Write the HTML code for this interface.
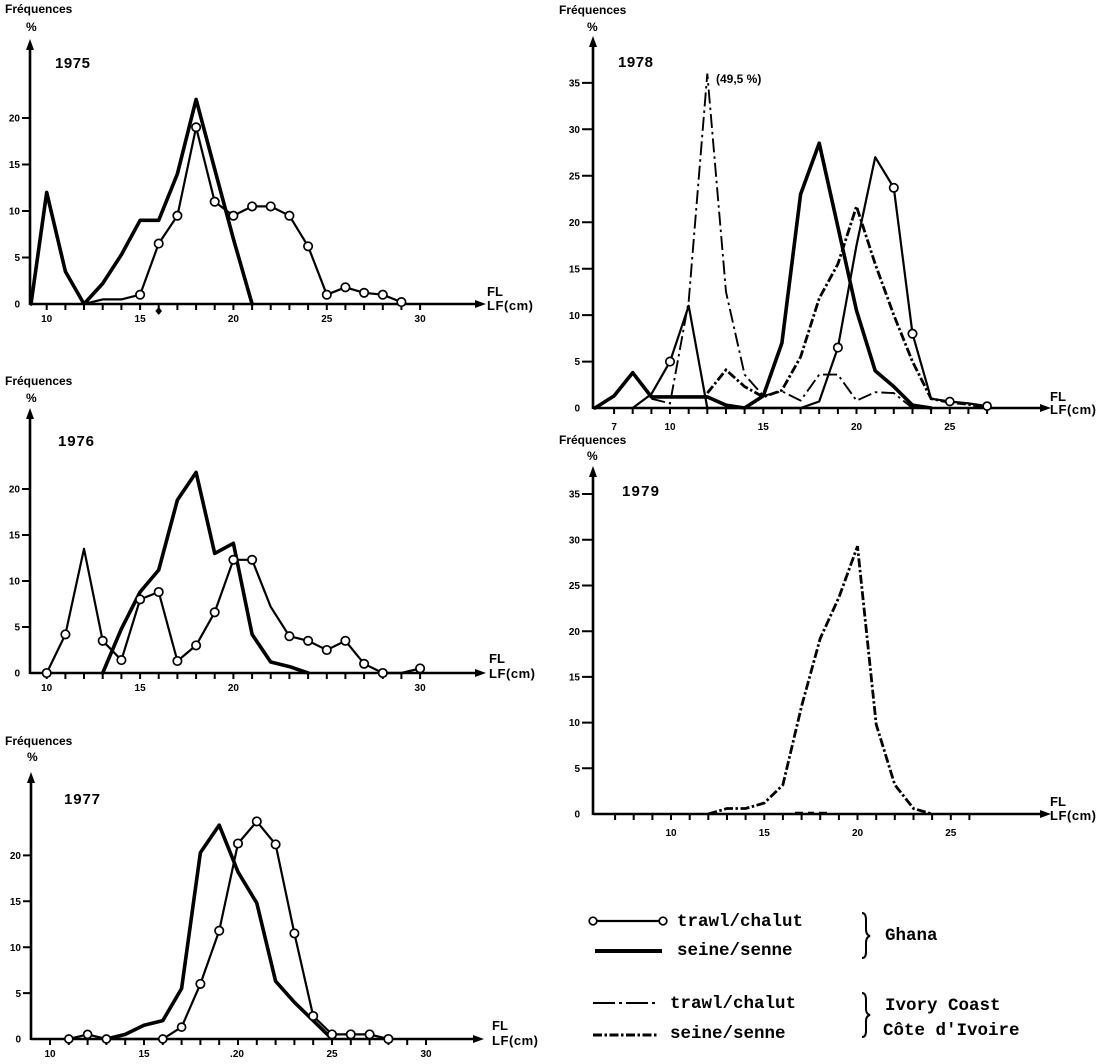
<!DOCTYPE html>
<html>
<head>
<meta charset="utf-8">
<style>
  html, body { margin:0; padding:0; background:#fff; }
  svg { display:block; }
  .ax { stroke:#000; stroke-width:2.6; fill:none; }
  .tk { stroke:#000; stroke-width:2; fill:none; }
  .gs { stroke:#000; stroke-width:3.6; fill:none; stroke-linejoin:round; stroke-linecap:round; }
  .gt { stroke:#000; stroke-width:2.2; fill:none; stroke-linejoin:round; }
  .it { stroke:#000; stroke-width:1.9; fill:none; stroke-dasharray:14 4 2.5 4; }
  .is { stroke:#000; stroke-width:2.8; fill:none; stroke-dasharray:9 2.5 2.5 2.5; }
  .m circle { fill:#fff; stroke:#000; stroke-width:1.7; }
  text { font-family:"Liberation Sans", sans-serif; font-weight:bold; fill:#000; }
  .fr { font-size:12px; }
  .yr { font-size:15px; }
  .tl { font-size:10px; }
  .fl { font-size:13px; }
  .lg { font-family:"Liberation Mono", monospace; font-size:17.5px; font-weight:bold; }
</style>
</head>
<body>
<svg width="1100" height="1064" viewBox="0 0 1100 1064" xmlns="http://www.w3.org/2000/svg">

<!-- ================= 1975 ================= -->
<text class="fr" x="5" y="13">Fréquences</text>
<text class="fr" x="26" y="31">%</text>
<text class="yr" x="55" y="68" textLength="35">1975</text>
<line class="ax" x1="30" y1="305" x2="30" y2="48"/>
<polygon points="26,50 30,39 34,50" fill="#000"/>
<line class="ax" x1="30" y1="304" x2="476" y2="304"/>
<polygon points="475,300 486,304 475,308" fill="#000"/>
<path class="tk" d="M22 118H30M22 164.5H30M22 211H30M22 257.5H30"/>
<g class="tl" text-anchor="end">
  <text x="20" y="121.5">20</text><text x="20" y="168">15</text><text x="20" y="214.5">10</text>
  <text x="20" y="261">5</text><text x="20" y="307.5">0</text>
</g>
<path class="tk" d="M46.7 304v6M65.4 304v6M84 304v6M102.7 304v6M121.4 304v6M140.1 304v6M158.7 304v6M177.4 304v6M196.1 304v6M214.7 304v6M233.4 304v6M252.1 304v6M270.7 304v6M289.4 304v6M308.1 304v6M326.8 304v6M345.4 304v6M364.1 304v6M382.8 304v6M401.4 304v6M420.1 304v6"/>
<g class="tl" text-anchor="middle">
  <text x="46.7" y="322">10</text><text x="140.1" y="322">15</text><text x="233.4" y="322">20</text>
  <text x="326.8" y="322">25</text><text x="420.1" y="322">30</text>
</g>
<polygon points="158.7,307 162,311 158.7,315 155.4,311" fill="#000"/>
<text class="fl" x="487" y="296">FL</text>
<text class="fl" x="487" y="310" textLength="46">LF(cm)</text>
<polyline class="gs" points="31,304 46.7,192.4 65.4,271.5 84,304 102.7,283.5 121.4,254.7 140.1,220.3 158.7,220.3 177.4,173.8 196.1,99.4 214.7,169.1 233.4,238.9 252.1,304"/>
<polyline class="gt" points="84,304 102.7,299.4 121.4,299.4 140.1,294.7 158.7,243.6 177.4,215.7 196.1,127.3 214.7,201.7 233.4,215.7 252.1,206.4 270.7,206.4 289.4,215.7 308.1,246.3 326.8,294.7 345.4,287.3 364.1,292.8 382.8,294.7 401.4,302.1"/>
<g class="m">
  <circle cx="140.1" cy="294.7" r="4.2"/><circle cx="158.7" cy="243.6" r="4.2"/><circle cx="177.4" cy="215.7" r="4.2"/>
  <circle cx="196.1" cy="127.3" r="4.2"/><circle cx="214.7" cy="201.7" r="4.2"/><circle cx="233.4" cy="215.7" r="4.2"/>
  <circle cx="252.1" cy="206.4" r="4.2"/><circle cx="270.7" cy="206.4" r="4.2"/><circle cx="289.4" cy="215.7" r="4.2"/>
  <circle cx="308.1" cy="246.3" r="4.2"/><circle cx="326.8" cy="294.7" r="4.2"/><circle cx="345.4" cy="287.3" r="4.2"/>
  <circle cx="364.1" cy="292.8" r="4.2"/><circle cx="382.8" cy="294.7" r="4.2"/><circle cx="401.4" cy="302.1" r="4.2"/>
</g>

<!-- ================= 1976 ================= -->
<text class="fr" x="5" y="385">Fréquences</text>
<text class="fr" x="26" y="402">%</text>
<text class="yr" x="58" y="446" textLength="36">1976</text>
<line class="ax" x1="30" y1="674" x2="30" y2="417"/>
<polygon points="26,419 30,408 34,419" fill="#000"/>
<line class="ax" x1="30" y1="673" x2="476" y2="673"/>
<polygon points="475,669 486,673 475,677" fill="#000"/>
<path class="tk" d="M22 489H30M22 535H30M22 581H30M22 627H30"/>
<g class="tl" text-anchor="end">
  <text x="20" y="492.5">20</text><text x="20" y="538.5">15</text><text x="20" y="584.5">10</text>
  <text x="20" y="630.5">5</text><text x="20" y="676.5">0</text>
</g>
<path class="tk" d="M46.7 673v6M65.4 673v6M84 673v6M102.7 673v6M121.4 673v6M140.1 673v6M158.7 673v6M177.4 673v6M196.1 673v6M214.7 673v6M233.4 673v6M252.1 673v6M270.7 673v6M289.4 673v6M308.1 673v6M326.8 673v6M345.4 673v6M364.1 673v6M382.8 673v6M401.4 673v6M420.1 673v6"/>
<g class="tl" text-anchor="middle">
  <text x="46.7" y="691">10</text><text x="140.1" y="691">15</text><text x="233.4" y="691">20</text>
  <text x="420.1" y="691">30</text>
</g>
<text class="fl" x="489" y="663">FL</text>
<text class="fl" x="489" y="678" textLength="46">LF(cm)</text>
<polyline class="gs" points="102.7,673 121.4,628.8 140.1,592 158.7,570 177.4,500 196.1,472.4 214.7,553.4 233.4,543.3 252.1,634.4 270.7,662 289.4,666.6 308.1,673"/>
<polyline class="gt" points="46.7,673 65.4,634.4 84,548.8 102.7,640.8 121.4,660.1 140.1,599.4 158.7,592 177.4,661 196.1,645.4 214.7,612.3 233.4,559.8 252.1,559.8 270.7,606.8 289.4,636.2 308.1,640.8 326.8,650 345.4,640.8 364.1,663.8 382.8,673 401.4,673 420.1,668.4"/>
<g class="m">
  <circle cx="46.7" cy="673" r="4.2"/><circle cx="65.4" cy="634.4" r="4.2"/><circle cx="102.7" cy="640.8" r="4.2"/>
  <circle cx="121.4" cy="660.1" r="4.2"/><circle cx="140.1" cy="599.4" r="4.2"/><circle cx="158.7" cy="592" r="4.2"/>
  <circle cx="177.4" cy="661" r="4.2"/><circle cx="196.1" cy="645.4" r="4.2"/><circle cx="214.7" cy="612.3" r="4.2"/>
  <circle cx="233.4" cy="559.8" r="4.2"/><circle cx="252.1" cy="559.8" r="4.2"/><circle cx="289.4" cy="636.2" r="4.2"/>
  <circle cx="308.1" cy="640.8" r="4.2"/><circle cx="326.8" cy="650" r="4.2"/><circle cx="345.4" cy="640.8" r="4.2"/>
  <circle cx="364.1" cy="663.8" r="4.2"/><circle cx="382.8" cy="673" r="4.2"/><circle cx="420.1" cy="668.4" r="4.2"/>
</g>

<!-- ================= 1977 ================= -->
<text class="fr" x="5" y="745">Fréquences</text>
<text class="fr" x="27" y="761">%</text>
<text class="yr" x="64" y="804" textLength="36">1977</text>
<line class="ax" x1="31" y1="1040" x2="31" y2="781"/>
<polygon points="27,783 31,772 35,783" fill="#000"/>
<line class="ax" x1="31" y1="1039" x2="474" y2="1039"/>
<polygon points="473,1035 484,1039 473,1043" fill="#000"/>
<path class="tk" d="M23 855.4H31M23 901.3H31M23 947.2H31M23 993.1H31"/>
<g class="tl" text-anchor="end">
  <text x="21" y="859">20</text><text x="21" y="905">15</text><text x="21" y="951">10</text>
  <text x="21" y="997">5</text><text x="21" y="1042.5">0</text>
</g>
<path class="tk" d="M50 1039v6M68.8 1039v6M87.6 1039v6M106.4 1039v6M125.2 1039v6M144 1039v6M162.8 1039v6M181.6 1039v6M200.4 1039v6M219.2 1039v6M238 1039v6M256.8 1039v6M275.6 1039v6M294.4 1039v6M313.2 1039v6M332 1039v6M350.8 1039v6M369.6 1039v6M388.4 1039v6M407.2 1039v6M426 1039v6"/>
<g class="tl" text-anchor="middle">
  <text x="50" y="1057">10</text><text x="144" y="1057">15</text><text x="237" y="1057">.20</text>
  <text x="332" y="1057">25</text><text x="426" y="1057">30</text>
</g>
<text class="fl" x="492" y="1030">FL</text>
<text class="fl" x="492" y="1045" textLength="46">LF(cm)</text>
<polyline class="gs" points="106.4,1039 125.2,1034.4 144,1025.2 162.8,1020.6 181.6,988.5 200.4,852.6 219.2,825.1 238,871.9 256.8,903.1 275.6,981.2 294.4,1002.3 313.2,1020.6 332,1039"/>
<polyline class="gt" points="68.8,1039 87.6,1034.4 106.4,1039 162.8,1039 181.6,1027.1 200.4,983.9 219.2,930.7 238,843.5 256.8,821.4 275.6,844.4 294.4,933.4 313.2,1016 332,1034.4 350.8,1034.4 369.6,1034.4 388.4,1039"/>
<g class="m">
  <circle cx="68.8" cy="1039" r="4"/><circle cx="87.6" cy="1034.4" r="4"/><circle cx="106.4" cy="1039" r="4"/>
  <circle cx="162.8" cy="1039" r="4"/><circle cx="181.6" cy="1027.1" r="4"/><circle cx="200.4" cy="983.9" r="4.2"/>
  <circle cx="219.2" cy="930.7" r="4.2"/><circle cx="238" cy="843.5" r="4.2"/><circle cx="256.8" cy="821.4" r="4.2"/>
  <circle cx="275.6" cy="844.4" r="4.2"/><circle cx="294.4" cy="933.4" r="4.2"/><circle cx="313.2" cy="1016" r="4.2"/>
  <circle cx="332" cy="1034.4" r="4.2"/><circle cx="350.8" cy="1034.4" r="4.2"/><circle cx="369.6" cy="1034.4" r="4.2"/>
  <circle cx="388.4" cy="1039" r="4.2"/>
</g>

<!-- ================= 1978 ================= -->
<text class="fr" x="559" y="14">Fréquences</text>
<text class="fr" x="587" y="31">%</text>
<text class="yr" x="618" y="67" textLength="35">1978</text>
<text x="716" y="83" style="font-size:12px">(49,5 %)</text>
<line class="ax" x1="593" y1="409" x2="593" y2="45"/>
<polygon points="589,47 593,36 597,47" fill="#000"/>
<line class="ax" x1="593" y1="408" x2="1041" y2="408"/>
<polygon points="1040,404 1051,408 1040,412" fill="#000"/>
<path class="tk" d="M582 82.9H593M582 129.3H593M582 175.8H593M582 222.2H593M582 268.7H593M582 315.1H593M582 361.6H593"/>
<g class="tl" text-anchor="end">
  <text x="580" y="86.5">35</text><text x="580" y="133">30</text><text x="580" y="179.5">25</text>
  <text x="580" y="226">20</text><text x="580" y="272.5">15</text><text x="580" y="319">10</text>
  <text x="580" y="365">5</text><text x="580" y="411.5">0</text>
</g>
<path class="tk" d="M614.1 408v6M632.7 408v6M651.4 408v6M670 408v6M688.7 408v6M707.3 408v6M726 408v6M744.6 408v6M763.3 408v6M781.9 408v6M800.6 408v6M819.2 408v6M837.9 408v6M856.5 408v6M875.2 408v6M893.8 408v6M912.5 408v6M931.1 408v6M949.8 408v6M968.4 408v6M987.1 408v6"/>
<g class="tl" text-anchor="middle">
  <text x="614.1" y="430">7</text><text x="670" y="430">10</text><text x="763.3" y="430">15</text>
  <text x="856.5" y="430">20</text><text x="949.8" y="430">25</text>
</g>
<text class="fl" x="1050" y="401">FL</text>
<text class="fl" x="1050" y="414" textLength="46">LF(cm)</text>
<polyline class="gs" points="595,408 614.1,395.9 632.7,372.7 651.4,396.9 670,396.9 688.7,396.9 707.3,396.9 726,405.2 744.6,408 763.3,395.9 781.9,343 800.6,194.3 819.2,143.2 837.9,226.9 856.5,310.5 875.2,370.8 893.8,386.6 912.5,405.2 931.1,408"/>
<polyline class="gt" points="632.7,408 651.4,394.1 670,361.6 688.7,305.8 707.3,408 800.6,408 819.2,401.5 837.9,347.6 856.5,245.4 875.2,157.2 893.8,187.8 912.5,333.7 931.1,398.7 949.8,401.5 968.4,403.4 987.1,406.1"/>
<polyline class="it" points="651.4,398.7 670,403.4 688.7,301.2 707.3,73.6 726,291.9 744.6,374.6 763.3,395.9 781.9,391.3 800.6,400.6 819.2,374.6 837.9,374.6 856.5,400.6 875.2,392.2 893.8,393.1 912.5,408"/>
<polyline class="is" points="707.3,393.1 726,369.9 744.6,386.6 763.3,396.9 781.9,390.3 800.6,356.9 819.2,298.4 837.9,264 856.5,206.4 875.2,264 893.8,315.1 912.5,361.6 931.1,398.7 949.8,402.4 968.4,404.3 987.1,408"/>
<g class="m">
  <circle cx="670" cy="361.6" r="4.2"/><circle cx="837.9" cy="347.6" r="4.2"/><circle cx="893.8" cy="187.8" r="4.2"/>
  <circle cx="912.5" cy="333.7" r="4.2"/><circle cx="949.8" cy="401.5" r="4"/><circle cx="987.1" cy="406.1" r="4"/>
</g>

<!-- ================= 1979 ================= -->
<text class="fr" x="559" y="444">Fréquences</text>
<text class="fr" x="587" y="460">%</text>
<text class="yr" x="622" y="496" textLength="37">1979</text>
<line class="ax" x1="593" y1="815" x2="593" y2="475"/>
<polygon points="589,477 593,466 597,477" fill="#000"/>
<line class="ax" x1="593" y1="814" x2="1041" y2="814"/>
<polygon points="1040,810 1051,814 1040,818" fill="#000"/>
<path class="tk" d="M582 494H593M582 539.8H593M582 585.5H593M582 631.2H593M582 676.9H593M582 722.6H593M582 768.3H593"/>
<g class="tl" text-anchor="end">
  <text x="580" y="497.5">35</text><text x="580" y="543.5">30</text><text x="580" y="589">25</text>
  <text x="580" y="635">20</text><text x="580" y="680.5">15</text><text x="580" y="726">10</text>
  <text x="580" y="772">5</text><text x="580" y="817.5">0</text>
</g>
<path class="tk" d="M615.1 814v6M633.7 814v6M652.4 814v6M671 814v6M689.7 814v6M708.3 814v6M727 814v6M745.6 814v6M764.3 814v6M782.9 814v6M801.6 814v6M820.2 814v6M838.9 814v6M857.5 814v6M876.2 814v6M894.8 814v6M913.5 814v6M932.1 814v6M950.8 814v6M969.4 814v6"/>
<g class="tl" text-anchor="middle">
  <text x="671" y="836">10</text><text x="764.3" y="836">15</text>
  <text x="857.5" y="836">20</text><text x="950.8" y="836">25</text>
</g>
<text class="fl" x="1050" y="806">FL</text>
<text class="fl" x="1050" y="820" textLength="46">LF(cm)</text>
<polyline class="is" points="708.3,814 727,808.5 745.6,808.5 764.3,803 782.9,784.8 801.6,706.1 820.2,638.5 838.9,597.4 857.5,546.2 876.2,724.4 894.8,784.8 913.5,808.5 932.1,814"/>
<path class="tk" d="M795 812.5h8M808 812.5h6M819 812.5h8" style="stroke-width:1.5"/>

<!-- ================= Legend ================= -->
<line x1="597" y1="921" x2="659" y2="921" stroke="#000" stroke-width="2.2"/>
<g class="m"><circle cx="593" cy="921" r="3.8"/><circle cx="663" cy="921" r="3.8"/></g>
<text class="lg" x="677" y="926">trawl/chalut</text>
<line x1="595" y1="951" x2="662" y2="951" stroke="#000" stroke-width="4"/>
<text class="lg" x="677" y="955">seine/senne</text>
<path d="M862 913 Q866 913 866 920 L866 929 Q866 935 870 936 Q866 937 866 943 L866 952 Q866 958 862 958" fill="none" stroke="#000" stroke-width="2"/>
<text class="lg" x="885" y="940">Ghana</text>

<line class="it" x1="593" y1="1003" x2="658" y2="1003" style="stroke-dasharray:22 4 3 4"/>
<text class="lg" x="670" y="1008">trawl/chalut</text>
<line class="is" x1="593" y1="1035" x2="658" y2="1035" style="stroke-width:3"/>
<text class="lg" x="670" y="1038">seine/senne</text>
<path d="M862 993 Q866 993 866 1000 L866 1009 Q866 1014 870 1015 Q866 1016 866 1021 L866 1031 Q866 1037 862 1037" fill="none" stroke="#000" stroke-width="2"/>
<text class="lg" x="885" y="1010">Ivory Coast</text>
<text class="lg" x="883" y="1035">Côte d'Ivoire</text>

</svg>
</body>
</html>
